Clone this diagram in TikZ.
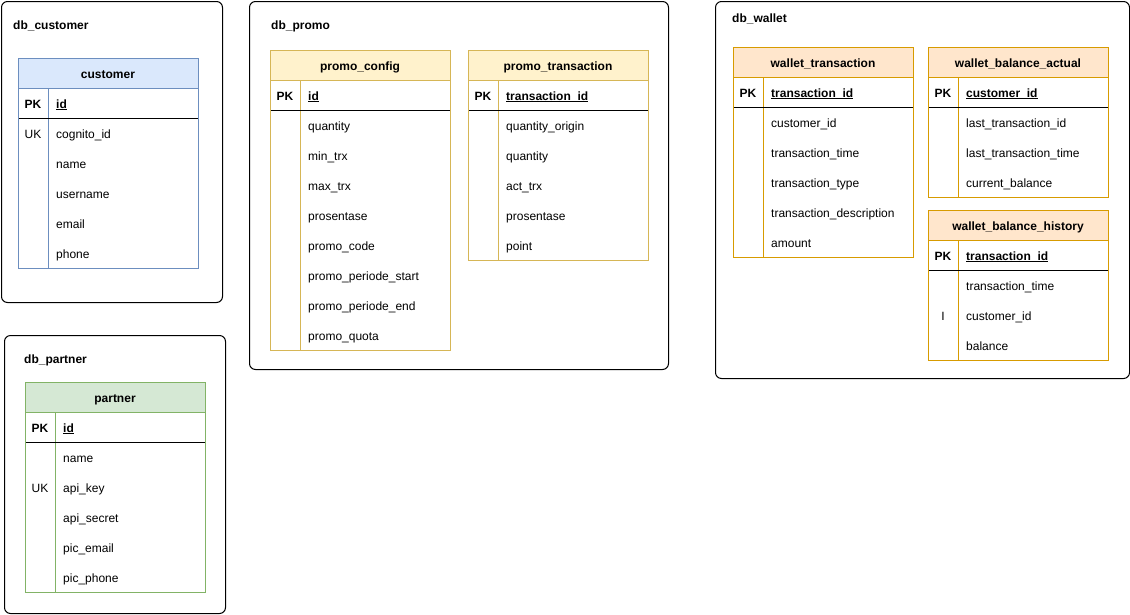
\documentclass[tikz,border=0pt]{standalone}
\usepackage{fontspec}
\setmainfont{Liberation Sans}
\definecolor{blueF}{HTML}{DAE8FC}\definecolor{blueD}{HTML}{6C8EBF}
\definecolor{yellowF}{HTML}{FFF2CC}\definecolor{yellowD}{HTML}{D6B656}
\definecolor{orangeF}{HTML}{FFE6CC}\definecolor{orangeD}{HTML}{D79B00}
\definecolor{greenF}{HTML}{D5E8D4}\definecolor{greenD}{HTML}{82B366}
\tikzset{
  fld/.style={inner sep=0pt, anchor=base west, font=\fontsize{12}{14}\selectfont},
  pkfld/.style={inner sep=0pt, anchor=base west, font=\fontsize{12}{14}\selectfont\bfseries},
  dblbl/.style={inner sep=0pt, anchor=base west, font=\fontsize{12}{14}\selectfont\bfseries},
  hdr/.style={inner sep=0pt, anchor=base, font=\fontsize{12}{14}\selectfont\bfseries},
  keyl/.style={inner sep=0pt, anchor=base, font=\fontsize{12}{14}\selectfont},
  pkkey/.style={inner sep=0pt, anchor=base, font=\fontsize{12}{14}\selectfont\bfseries},
  container/.style={draw=black, line width=1pt, rounded corners=6pt, inner sep=0pt, anchor=north west},
}
% #1 name, #2 x, #3 y, #4 colour, #5 title, #6 pk, #7 rows, #8 fields
\newcommand{\ertable}[8]{%
  \fill[#4F] (#2,#3) rectangle ({#2+180},{#3+30});
  \draw[#4D, line width=1pt] ({#2},{#3+30}) -- ({#2+180},{#3+30});
  \draw[#4D, line width=1pt] ({#2+30},{#3+30}) -- ({#2+30},{#3+60+30*#7});
  \draw[black, line width=1pt] ({#2},{#3+60}) -- ({#2+180},{#3+60});
  \draw[#4D, line width=1pt] (#2,#3) rectangle ({#2+180},{#3+60+30*#7});
  \node[hdr] (#1-title) at ({#2+90},{#3+20}) {#5};
  \node[pkkey] (#1-pk) at ({#2+15},{#3+50}) {PK};
  \node[pkfld] (#1-pkf) at ({#2+38},{#3+50}) {#6};
  \draw[black, line width=1pt] ([yshift=-1.6pt]#1-pkf.base west) -- ([yshift=-1.6pt]#1-pkf.base east);
  \foreach \f [count=\i] in {#8} {
    \node[fld] (#1-f\i) at ({#2+38},{#3+50+30*\i}) {\f};
  }
}
\begin{document}
\begin{tikzpicture}[x=1pt,y=-1pt]
\useasboundingbox (0,0) rectangle (1130,614);
\fill[white] (0,0) rectangle (1130,614);
% containers
\node[container, minimum width=221pt, minimum height=301pt] (dbc) at (1,1) {};
\node[container, minimum width=419pt, minimum height=368pt] (dbp) at (249,1) {};
\node[container, minimum width=414pt, minimum height=377pt] (dbw) at (715,1) {};
\node[container, minimum width=221pt, minimum height=278pt] (dbpt) at (4,335) {};
\node[dblbl] (dbc-l) at (13,29) {db\_customer};
\node[dblbl] (dbp-l) at (271,29) {db\_promo};
\node[dblbl] (dbw-l) at (732,22) {db\_wallet};
\node[dblbl] (dbpt-l) at (24,363) {db\_partner};
% tables
\ertable{cust}{18}{58}{blue}{customer}{id}{5}{cognito\_id,name,username,email,phone}
\node[keyl] (cust-uk) at (33,138) {UK};
\ertable{pc}{270}{50}{yellow}{promo\_config}{id}{8}{quantity,min\_trx,max\_trx,prosentase,promo\_code,promo\_periode\_start,promo\_periode\_end,promo\_quota}
\ertable{pt}{468}{50}{yellow}{promo\_transaction}{transaction\_id}{5}{quantity\_origin,quantity,act\_trx,prosentase,point}
\ertable{wt}{733}{47}{orange}{wallet\_transaction}{transaction\_id}{5}{customer\_id,transaction\_time,transaction\_type,transaction\_description,amount}
\ertable{wba}{928}{47}{orange}{wallet\_balance\_actual}{customer\_id}{3}{last\_transaction\_id,last\_transaction\_time,current\_balance}
\ertable{wbh}{928}{210}{orange}{wallet\_balance\_history}{transaction\_id}{3}{transaction\_time,customer\_id,balance}
\node[keyl] (wbh-i) at (943,320) {I};
\ertable{prt}{25}{382}{green}{partner}{id}{5}{name,api\_key,api\_secret,pic\_email,pic\_phone}
\node[keyl] (prt-uk) at (40,492) {UK};
\end{tikzpicture}
\end{document}
